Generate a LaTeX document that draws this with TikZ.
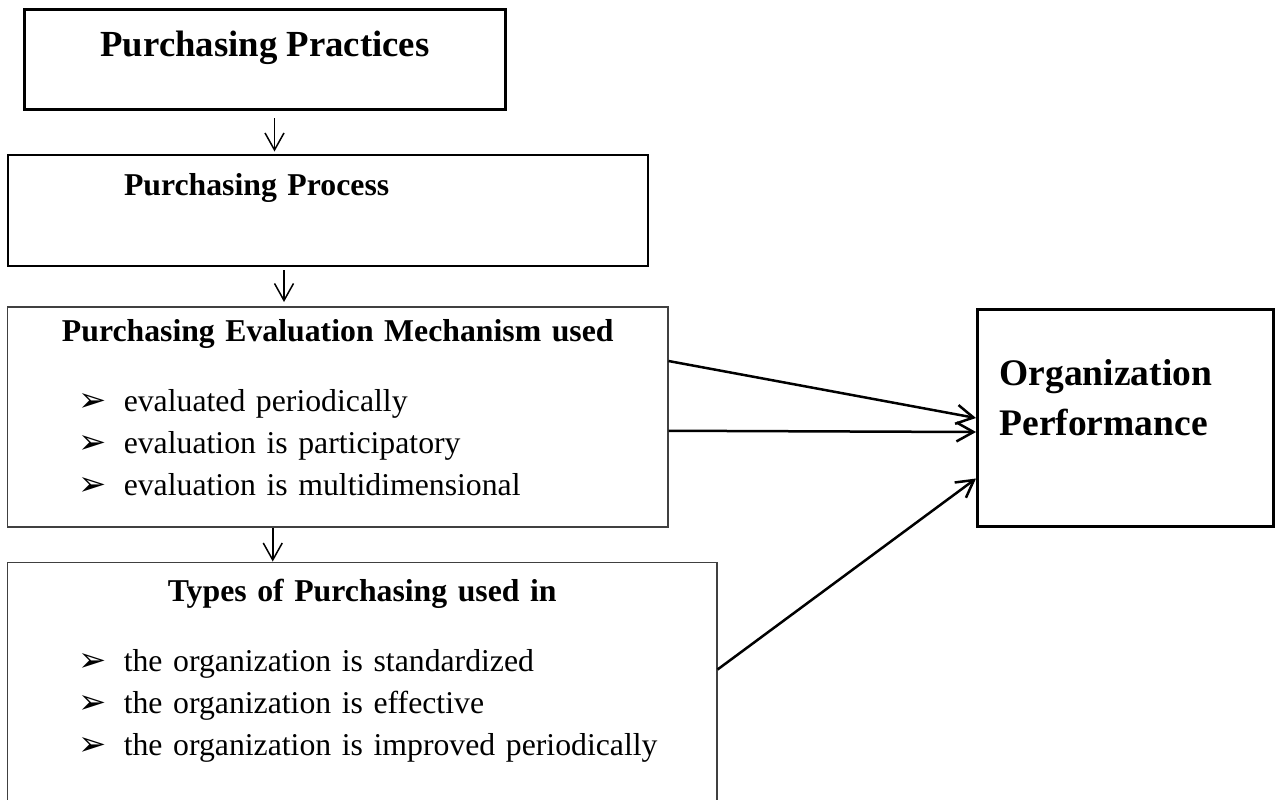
\documentclass[tikz,border=0pt]{standalone}
\usepackage{fontspec}
\setmainfont{Liberation Serif}
\newfontfamily\symfont{DejaVu Sans}
\usetikzlibrary{arrows.meta, positioning}
\newcommand{\bulitem}[1]{\mbox{\makebox[18pt][l]{\symfont\fontsize{13.5pt}{13.5pt}\selectfont ➢}#1}}

\begin{document}
\begin{tikzpicture}[
  x=0.4pt, y=-0.4pt,
  every node/.style={inner sep=0pt},
  box/.style={draw, anchor=north west},
  thickbox/.style={box, line width=1.2pt},
  midbox/.style={box, line width=0.8pt},
  listbox/.style={box, draw=black!75, line width=0.6pt, text width=#1, align=left,
                  inner xsep=28.4pt, font=\fontsize{12.7pt}{16.8pt}\selectfont},
  arr/.style={-{Straight Barb[length=6.8pt, width=7.6pt]}, line width=0.6pt},
  bigarr/.style={arr, line width=1pt}
]
\useasboundingbox (0,0) rectangle (1277,799);
\clip (0,0) rectangle (1277,799);

% Chain of practices
\node[thickbox, minimum width=192.4pt, minimum height=40pt, text height=18.8pt, text depth=21.2pt,
      font=\fontsize{14.7pt}{18pt}\selectfont\bfseries] (Prac) at (23,8) {Purchasing Practices};

\node[midbox, below=17.2pt of Prac.south west, anchor=north west, xshift=-6.4pt,
      minimum width=256pt, minimum height=44.4pt, text width=163.2pt, align=left, inner xsep=46.4pt,
      text height=16pt, text depth=28.4pt, font=\fontsize{12.7pt}{16pt}\selectfont\bfseries] (Proc) {Purchasing Process};

\node[listbox=207.2pt, below=15.6pt of Proc.south west, anchor=north west,
      minimum width=264pt, minimum height=88pt, text height=14pt, text depth=74pt] (Eval)
  {\makebox[\linewidth]{\bfseries Purchasing Evaluation Mechanism used}\\[11.2pt]
   \bulitem{evaluated periodically}\\
   \bulitem{evaluation is participatory}\\
   \bulitem{evaluation is multidimensional}};

\node[listbox=226.8pt, below=13.6pt of Eval.south west, anchor=north west,
      minimum width=283.6pt, minimum height=101.2pt, text height=15.6pt, text depth=85.6pt] (Types)
  {\makebox[\linewidth]{\bfseries Types of Purchasing used in}\\[11.2pt]
   \bulitem{the organization is standardized}\\
   \bulitem{the organization is effective}\\
   \bulitem{the organization is improved periodically}};

% Outcome
\node[thickbox, right=123pt of Eval.north east, anchor=north west, yshift=-0.8pt,
      minimum width=118.4pt, minimum height=86.8pt, text width=100.8pt, align=left, inner xsep=8.8pt,
      text height=30.4pt, text depth=56.4pt, font=\fontsize{15pt}{20pt}\selectfont\bfseries] (Perf)
  {Organization\\Performance};

% Downward arrows
\draw[arr, shorten <=2.8pt, shorten >=1pt] ([xshift=3.8pt]Prac.south) -- ([xshift=3.8pt]Prac.south |- Proc.north);
\draw[arr, shorten <=1.2pt, shorten >=1.6pt] ([xshift=-17.6pt]Proc.south) -- ([xshift=-17.6pt]Proc.south |- Eval.north);
\draw[arr] ([xshift=-26pt]Eval.south) -- ([xshift=-26pt]Eval.south |- Types.north);

% Arrows into performance
\draw[bigarr] ([yshift=-22pt]Eval.north east) -- (Perf.west);
\draw[bigarr] ([yshift=-5.6pt]Eval.east) -- ([yshift=-5.6pt]Perf.west);
\draw[bigarr] ([yshift=-43.2pt]Types.north east) -- ([yshift=-24.2pt]Perf.west);

\end{tikzpicture}
\end{document}
